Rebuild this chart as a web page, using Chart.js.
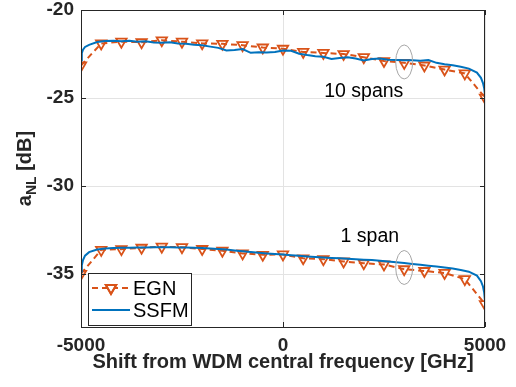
<!DOCTYPE html>
<html>
<head>
<meta charset="utf-8">
<script src="https://cdn.jsdelivr.net/npm/chart.js@4"></script>
<style>
  html, body { margin: 0; padding: 0; background: #fff; }
  canvas { display: block; }
</style>
</head>
<body>
<canvas id="anl" width="516" height="387"></canvas>
<script>
// EGN model, sampled every 500 GHz
var egnX = [-5000, -4500, -4000, -3500, -3000, -2500, -2000, -1500, -1000, -500, 0,
            500, 1000, 1500, 2000, 2500, 3000, 3500, 4000, 4500, 5000];
var egn10 = [-23.15, -21.9, -21.8, -21.83, -21.72, -21.8, -21.89, -21.92, -22.0, -22.13, -22.2,
             -22.38, -22.44, -22.5, -22.68, -22.9, -23.0, -23.15, -23.38, -23.6, -24.97];
var egn1 = [-34.98, -33.62, -33.58, -33.5, -33.44, -33.47, -33.57, -33.67, -33.82, -33.9, -33.88,
            -34.1, -34.15, -34.28, -34.38, -34.45, -34.72, -34.82, -34.93, -35.28, -36.7];

// split-step simulation
var ssfmX = [-5000, -4980, -4950, -4900,
  -4800, -4600, -4400, -4200, -4000, -3800, -3600, -3400, -3200, -3000, -2800, -2600, -2400,
  -2200, -2000, -1800, -1600, -1400, -1200, -1000, -800, -600, -400, -200, 0,
  200, 400, 600, 800, 1000, 1200, 1400, 1600, 1800, 2000, 2200, 2400,
  2600, 2800, 3000, 3200, 3400, 3600, 3800, 4000, 4200, 4400, 4600, 4800,
  4900, 4950, 4980, 5000];
var ssfm10 = [-22.85, -22.45, -22.25, -22.1,
  -21.98, -21.82, -21.76, -21.74, -21.78, -21.75, -21.8, -21.78, -21.84, -21.86, -21.83, -21.9, -21.92,
  -21.97, -22.0, -22.08, -22.15, -22.3, -22.27, -22.22, -22.43, -22.4, -22.42, -22.38, -22.3,
  -22.32, -22.48, -22.56, -22.62, -22.66, -22.78, -22.72, -22.68, -22.75, -22.86, -22.78, -22.76,
  -22.82, -22.84, -22.86, -22.85, -22.88, -22.84, -23.0, -23.08, -23.14, -23.22, -23.33, -23.55,
  -23.85, -24.15, -24.45, -24.8];
var ssfm1 = [-34.85, -34.5, -34.2, -33.95,
  -33.75, -33.6, -33.54, -33.52, -33.5, -33.5, -33.48, -33.48, -33.47, -33.47, -33.47, -33.48, -33.48,
  -33.5, -33.52, -33.54, -33.57, -33.6, -33.65, -33.7, -33.74, -33.78, -33.82, -33.85, -33.88,
  -33.92, -33.96, -34.0, -34.03, -34.06, -34.08, -34.1, -34.12, -34.15, -34.18, -34.2, -34.24,
  -34.28, -34.32, -34.36, -34.42, -34.47, -34.52, -34.57, -34.62, -34.68, -34.76, -34.86, -35.08,
  -35.4, -35.7, -36.05, -36.55];

var xTicks = [-5000, 0, 5000];
var yTicks = [-35, -30, -25, -20];

// labelled groups: [text, x, y] and circled points [x, y]
var groupLabels = [['10 spans', 2000, -24.65], ['1 span', 2150, -32.86]];
var groupMarks = [[3000, -22.95], [3000, -34.62]];

var ORANGE = '#D95319';
var BLUE = '#0072BD';
var AXIS = '#262626';
var FONT = '"Liberation Sans", Arial, sans-serif';

function pts(xs, ys) {
  return xs.map(function (x, i) { return { x: x, y: ys[i] }; });
}

var egnStyle = {
  borderColor: ORANGE, borderWidth: 2, borderDash: [6, 4],
  pointStyle: 'triangle', rotation: 180, pointRadius: 6,
  pointBorderColor: ORANGE, pointBackgroundColor: 'rgba(0,0,0,0)', pointBorderWidth: 1.8,
  tension: 0, order: 2
};
var ssfmStyle = {
  borderColor: BLUE, borderWidth: 2, pointRadius: 0, tension: 0, order: 1
};

var frame = {
  id: 'frame',
  afterDraw: function (chart) {
    var ctx = chart.ctx, a = chart.chartArea;
    var xs = chart.scales.x, ys = chart.scales.y;
    ctx.save();

    // circled points
    ctx.strokeStyle = '#a6a6a6';
    ctx.lineWidth = 1;
    groupMarks.forEach(function (m) {
      ctx.beginPath();
      ctx.ellipse(xs.getPixelForValue(m[0]), ys.getPixelForValue(m[1]), 8.5, 17, 0, 0, Math.PI * 2);
      ctx.stroke();
    });

    // group labels
    ctx.fillStyle = '#000';
    ctx.font = '19.5px ' + FONT;
    ctx.textAlign = 'center';
    ctx.textBaseline = 'middle';
    groupLabels.forEach(function (g) {
      ctx.fillText(g[0], xs.getPixelForValue(g[1]), ys.getPixelForValue(g[2]));
    });

    // axes box with inward ticks
    ctx.strokeStyle = AXIS;
    ctx.lineWidth = 1;
    ctx.strokeRect(a.left + 0.5, a.top + 0.5, a.right - a.left - 1, a.bottom - a.top);
    ctx.beginPath();
    xTicks.forEach(function (v) {
      var px = Math.round(xs.getPixelForValue(v)) + 0.5;
      ctx.moveTo(px, a.bottom); ctx.lineTo(px, a.bottom - 5);
      ctx.moveTo(px, a.top); ctx.lineTo(px, a.top + 5);
    });
    yTicks.forEach(function (v) {
      var py = Math.round(ys.getPixelForValue(v)) + 0.5;
      ctx.moveTo(a.left, py); ctx.lineTo(a.left + 5, py);
      ctx.moveTo(a.right, py); ctx.lineTo(a.right - 5, py);
    });
    ctx.stroke();

    // y axis title with subscript
    ctx.fillStyle = AXIS;
    ctx.textAlign = 'left';
    ctx.textBaseline = 'alphabetic';
    var big = 'bold 20px ' + FONT, small = 'bold 14px ' + FONT;
    ctx.font = big;
    var wA = ctx.measureText('a').width, wB = ctx.measureText(' [dB]').width;
    ctx.font = small;
    var wS = ctx.measureText('NL').width;
    var total = wA + wS + wB;
    ctx.translate(31, (a.top + a.bottom) / 2);
    ctx.rotate(-Math.PI / 2);
    var x0 = -total / 2;
    ctx.font = big; ctx.fillText('a', x0, 0);
    ctx.font = small; ctx.fillText('NL', x0 + wA, 5);
    ctx.font = big; ctx.fillText(' [dB]', x0 + wA + wS, 0);
    ctx.setTransform(1, 0, 0, 1, 0, 0);

    // legend
    var lx = a.left + 7, ly = a.bottom - 54, lw = 103, lh = 52;
    ctx.fillStyle = '#fff';
    ctx.fillRect(lx, ly, lw, lh);
    ctx.strokeStyle = AXIS;
    ctx.strokeRect(lx + 0.5, ly + 0.5, lw, lh);
    var rows = [['EGN', egnStyle, ly + 15], ['SSFM', ssfmStyle, ly + 37]];
    rows.forEach(function (r) {
      var s = r[1], y = r[2];
      ctx.strokeStyle = s.borderColor;
      ctx.lineWidth = s.borderWidth;
      ctx.setLineDash(s.borderDash || []);
      ctx.beginPath();
      ctx.moveTo(lx + 4, y); ctx.lineTo(lx + 42, y);
      ctx.stroke();
      ctx.setLineDash([]);
      if (s.pointRadius) {
        ctx.fillStyle = '#fff';
        Chart.helpers.drawPoint(ctx, { pointStyle: s.pointStyle, rotation: s.rotation, radius: s.pointRadius, borderWidth: s.pointBorderWidth }, lx + 23, y);
        ctx.lineWidth = s.pointBorderWidth;
        ctx.stroke();
      }
      ctx.fillStyle = '#000';
      ctx.font = '20px ' + FONT;
      ctx.textBaseline = 'middle';
      ctx.fillText(r[0], lx + 45, y + 1);
    });
    ctx.restore();
  }
};

function plain(v) { return String(v); }

new Chart(document.getElementById('anl'), {
  type: 'line',
  data: {
    datasets: [
      Object.assign({ label: 'EGN 10 spans', data: pts(egnX, egn10) }, egnStyle),
      Object.assign({ label: 'EGN 1 span', data: pts(egnX, egn1) }, egnStyle),
      Object.assign({ label: 'SSFM 10 spans', data: pts(ssfmX, ssfm10) }, ssfmStyle),
      Object.assign({ label: 'SSFM 1 span', data: pts(ssfmX, ssfm1) }, ssfmStyle)
    ]
  },
  options: {
    responsive: false,
    animation: false,
    devicePixelRatio: 1,
    layout: { padding: { top: 10, right: 31, left: 0, bottom: 0 } },
    plugins: { legend: { display: false }, tooltip: { enabled: false } },
    scales: {
      x: {
        type: 'linear', min: -5000, max: 5000,
        afterBuildTicks: function (s) { s.ticks = xTicks.map(function (v) { return { value: v }; }); },
        afterFit: function (s) { s.height = 60; s.paddingLeft = 0; s.paddingRight = 0; },
        grid: { color: '#e3e3e3', drawTicks: false },
        border: { display: false },
        ticks: { color: AXIS, font: { family: FONT, size: 19, weight: 'bold' }, padding: 7, maxRotation: 0, callback: plain },
        title: {
          display: true, text: 'Shift from WDM central frequency [GHz]', color: AXIS,
          font: { family: FONT, size: 20, weight: 'bold' }, padding: { top: 0, bottom: 13 }
        }
      },
      y: {
        min: -38, max: -20,
        afterBuildTicks: function (s) { s.ticks = yTicks.map(function (v) { return { value: v }; }); },
        afterFit: function (s) { s.width = 81; s.paddingTop = 0; s.paddingBottom = 0; },
        grid: { color: '#e3e3e3', drawTicks: false },
        border: { display: false },
        ticks: { color: AXIS, font: { family: FONT, size: 19, weight: 'bold' }, padding: 7, callback: plain }
      }
    }
  },
  plugins: [frame]
});
</script>
</body>
</html>
